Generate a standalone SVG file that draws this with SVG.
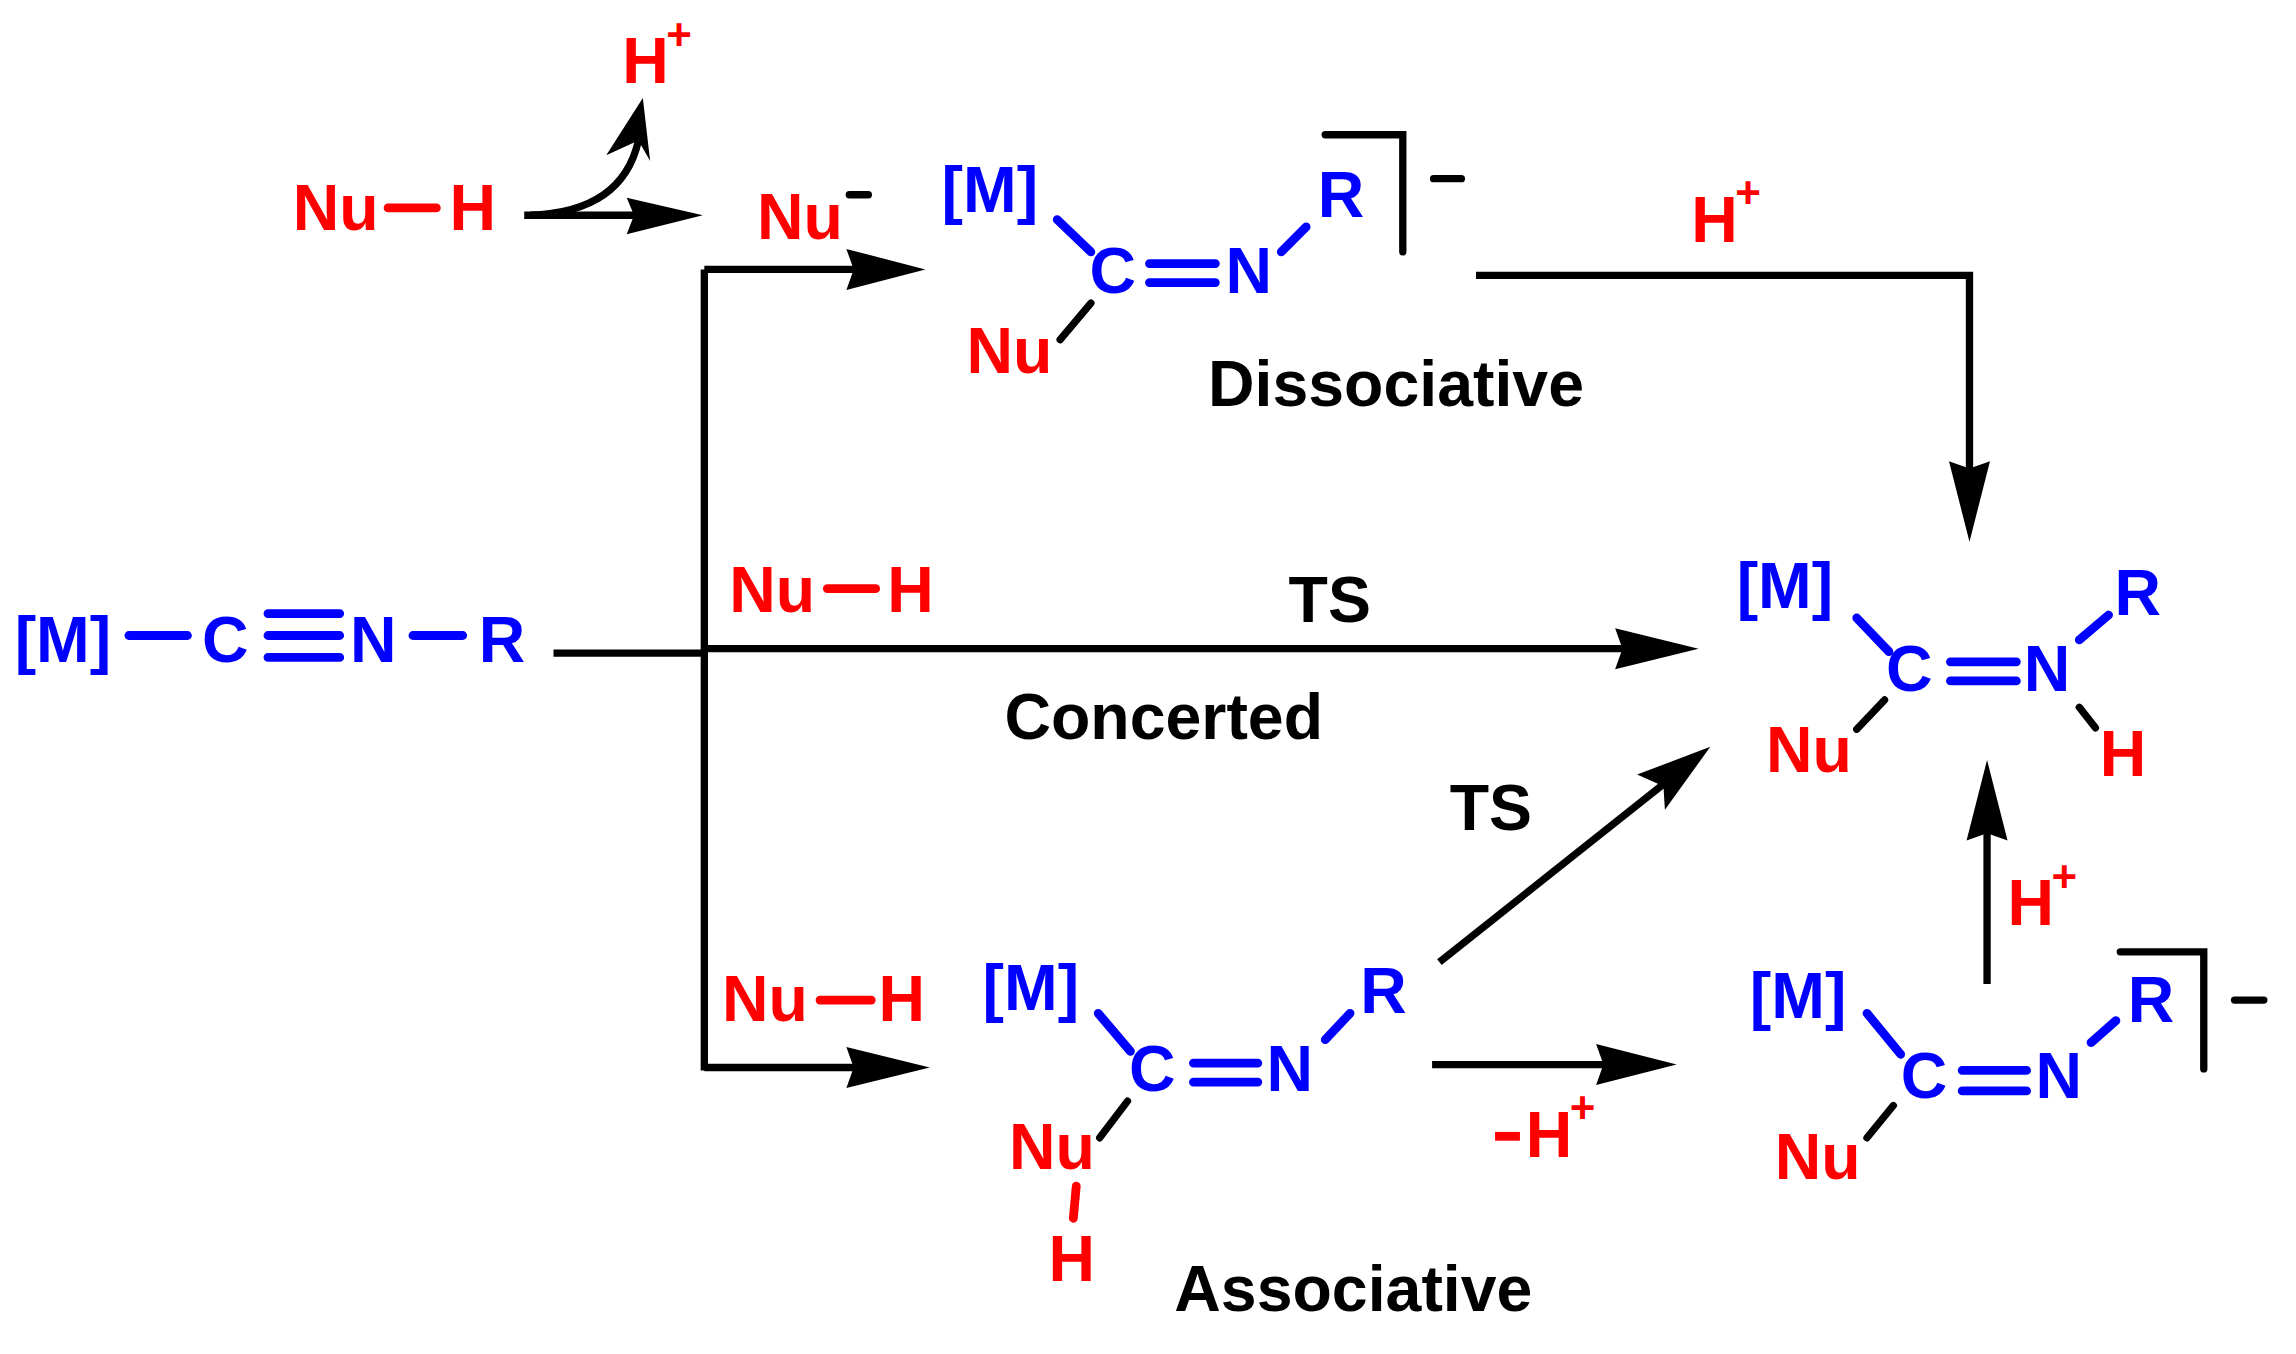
<svg xmlns="http://www.w3.org/2000/svg" width="2296" height="1354" viewBox="0 0 2296 1354">
<defs>
<style>
text{font-family:"Liberation Sans",Arial,sans-serif;font-weight:bold;font-size:44px}
.r{fill:#ff0000}.b{fill:#0000ff}.k{fill:#000}
.sup{font-size:30px}
.bb{stroke:#0000ff;stroke-width:6;stroke-linecap:round;fill:none}
.rb{stroke:#ff0000;stroke-width:6;stroke-linecap:round;fill:none}
.kb{stroke:#000;stroke-width:5;stroke-linecap:round;fill:none}
.ar{stroke:#000;stroke-width:5;fill:none}
</style>
<marker id="ah" markerWidth="12" markerHeight="10" refX="11" refY="5" orient="auto" markerUnits="userSpaceOnUse" viewBox="0 0 12 10"><path d="M0,0 L12,5 L0,10 L2,5 Z" fill="#000"/></marker>
</defs>
<rect width="2296" height="1354" fill="#fff"/>
<g transform="scale(1.4643)">
<g id="connectors">
<path class="ar" d="M358,147 H440"/><path d="M428,135 L480,147 L428,160 L433,147 Z"/>
<path class="ar" d="M362,147 Q425,145 436,96"/><path d="M439,67 L444,110 L436,96 L414,106 Z"/>
<path class="ar" d="M481,184 V731"/>
<path class="ar" d="M481,184 H590"/><path d="M578,170 L632,184 L578,198 L583,184 Z"/>
<path class="ar" d="M481,729 H590"/><path d="M578,715 L635,729 L578,743 L583,729 Z"/>
<path class="ar" d="M378,446 H481 M481,443 H1120"/><path d="M1103,429 L1160,443 L1103,457 L1108,443 Z"/>
<path class="ar" d="M1008,188 H1345 V330"/><path d="M1331,315 L1345,370 L1359,315 L1345,320 Z"/>
<path class="ar" d="M983,657 L1138,534"/><path d="M1118,529 L1168,510 L1137,553 L1136,537 Z"/>
<path class="ar" d="M1357,672 V560"/><path d="M1343,574 L1357,519 L1371,574 L1357,569 Z"/>
<path class="ar" d="M978,727 H1100"/><path d="M1090,713 L1145,727 L1090,741 L1095,727 Z"/>
</g>
<g id="nuh-top"><text x="200" y="157" class="r">Nu</text><path class="rb" d="M265,142 H298"/><text x="307" y="157" class="r">H</text></g>
<g id="hplus-top"><text x="425" y="57" class="r">H</text><text x="455" y="34" class="r sup">+</text></g>
<g id="nu-anion"><text x="517" y="163" class="r">Nu</text><path class="kb" d="M580,133 H593"/></g>
<g id="dissociative-int">
<text x="643" y="145" class="b">[M]</text><path class="bb" d="M722,150 L745,172"/>
<text x="744" y="200" class="b">C</text><path class="bb" d="M785,180 H830 M785,193 H830"/>
<text x="837" y="200" class="b">N</text><path class="bb" d="M875,172 L892,155"/>
<text x="900" y="148" class="b">R</text>
<path class="kb" d="M905,92 H958 V172"/><path class="kb" d="M979,122 H998"/>
<text x="660" y="255" class="r">Nu</text><path class="kb" d="M745,207 L724,232"/>
<text x="825" y="277" class="k">Dissociative</text>
</g>
<g id="hplus-dis"><text x="1155" y="165" class="r">H</text><text x="1185" y="142" class="r sup">+</text></g>
<g id="reactant">
<text x="10" y="452" class="b">[M]</text><path class="bb" d="M88,434 H128"/>
<text x="138" y="452" class="b">C</text><path class="bb" d="M183,419 H232 M183,434 H232 M183,449 H232"/>
<text x="239" y="452" class="b">N</text><path class="bb" d="M282,434 H316"/>
<text x="327" y="452" class="b">R</text>
</g>
<g id="nuh-mid"><text x="498" y="418" class="r">Nu</text><path class="rb" d="M565,402 H598"/><text x="606" y="418" class="r">H</text></g>
<text id="ts1" x="880" y="425" class="k">TS</text>
<text id="concerted" x="686" y="505" class="k">Concerted</text>
<g id="product">
<text x="1186" y="415" class="b">[M]</text><path class="bb" d="M1268,422 L1290,445"/>
<text x="1288" y="472" class="b">C</text><path class="bb" d="M1332,452 H1377 M1332,465 H1377"/>
<text x="1382" y="472" class="b">N</text><path class="bb" d="M1420,437 L1440,420"/>
<text x="1444" y="420" class="b">R</text>
<path class="kb" d="M1420,483 L1431,497"/><text x="1434" y="530" class="r">H</text>
<text x="1206" y="527" class="r">Nu</text><path class="kb" d="M1287,478 L1268,498"/>
</g>
<text id="ts2" x="990" y="567" class="k">TS</text>
<g id="hplus-up"><text x="1371" y="632" class="r">H</text><text x="1401" y="609" class="r sup">+</text></g>
<g id="nuh-bot"><text x="493" y="697" class="r">Nu</text><path class="rb" d="M560,683 H595"/><text x="600" y="697" class="r">H</text></g>
<g id="associative-int">
<text x="671" y="690" class="b">[M]</text><path class="bb" d="M750,692 L772,718"/>
<text x="771" y="745" class="b">C</text><path class="bb" d="M815,726 H859 M815,739 H859"/>
<text x="865" y="745" class="b">N</text><path class="bb" d="M905,710 L922,692"/>
<text x="929" y="692" class="b">R</text>
<text x="689" y="798" class="r">Nu</text><path class="kb" d="M770,752 L751,777"/>
<path class="rb" d="M735,810 L733,832"/><text x="716" y="875" class="r">H</text>
<text x="802" y="895" class="k">Associative</text>
</g>
<g id="minus-hplus"><path class="rb" d="M1021,776 H1038" style="stroke-linecap:butt"/><text x="1042" y="790" class="r">H</text><text x="1072" y="767" class="r sup">+</text></g>
<g id="anion-right">
<text x="1195" y="695" class="b">[M]</text><path class="bb" d="M1275,692 L1298,720"/>
<text x="1298" y="750" class="b">C</text><path class="bb" d="M1340,731 H1384 M1340,745 H1384"/>
<text x="1390" y="750" class="b">N</text><path class="bb" d="M1428,712 L1445,697"/>
<text x="1453" y="698" class="b">R</text>
<path class="kb" d="M1448,650 H1505 V730"/><path class="kb" d="M1526,683 H1546"/>
<text x="1212" y="805" class="r">Nu</text><path class="kb" d="M1293,755 L1275,777"/>
</g>
</g>
</svg>
